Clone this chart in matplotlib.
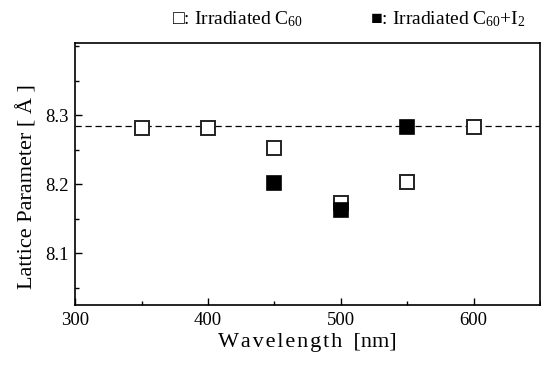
import matplotlib
matplotlib.use('Agg')
from matplotlib import pyplot as plt
from matplotlib.ticker import MultipleLocator

plt.rcParams['font.family'] = ['Liberation Serif', 'DejaVu Sans']
plt.rcParams['mathtext.fontset'] = 'custom'
plt.rcParams['mathtext.rm'] = 'Liberation Serif'
plt.rcParams['mathtext.it'] = 'Liberation Serif:italic'

# irradiated C60 (open squares)
c60_wavelength = [350, 400, 450, 500, 550, 600]
c60_lattice = [8.282, 8.282, 8.253, 8.173, 8.203, 8.283]

# irradiated C60 + I2 (filled squares)
c60i2_wavelength = [450, 500, 550]
c60i2_lattice = [8.202, 8.163, 8.283]

reference_lattice = 8.285

fig = plt.figure(figsize=(5.41, 3.67), dpi=100)
ax = fig.add_axes([0.139, 0.169, 0.859, 0.714])

ax.axhline(reference_lattice, color='black', lw=0.9, ls=(0, (5, 3)), zorder=1)
ax.plot(c60_wavelength, c60_lattice, 's', ms=10, mfc='white', mec='#222222', mew=1.4, zorder=3)
ax.plot(c60i2_wavelength, c60i2_lattice, 's', ms=10, mfc='black', mec='black', mew=1.2, zorder=3)

ax.set_xlim(300, 650)
ax.set_ylim(8.025, 8.405)
ax.xaxis.set_major_locator(MultipleLocator(100))
ax.xaxis.set_minor_locator(MultipleLocator(50))
ax.yaxis.set_minor_locator(MultipleLocator(0.05))
ax.set_yticks([8.1, 8.2, 8.3])
ax.set_yticklabels(['8.1', '8.2', '8.3'])
ax.tick_params(which='both', direction='in', labelsize=13.5, top=False, right=False)
ax.tick_params(which='major', length=5, width=1, pad=5)
ax.tick_params(which='minor', length=3, width=1)
for s in ax.spines.values():
    s.set_linewidth(1.2)

# letter-spaced label as in the original figure
xlabel = '\u200a'.join('Wavelength') + '  [nm]'
ax.set_xlabel(xlabel, fontsize=16, labelpad=3)
ax.set_ylabel('Lattice Parameter [ Å ]', fontsize=16)
ax.yaxis.set_label_coords(-0.082, 0.45)

fig.text(0.318, 0.947, '□: Irradiated C$_{60}$', fontsize=14, va='center', ha='left')
fig.text(0.683, 0.947, '■: Irradiated C$_{60}$+I$_2$', fontsize=14, va='center', ha='left')

fig.savefig('out.png', dpi=100)
